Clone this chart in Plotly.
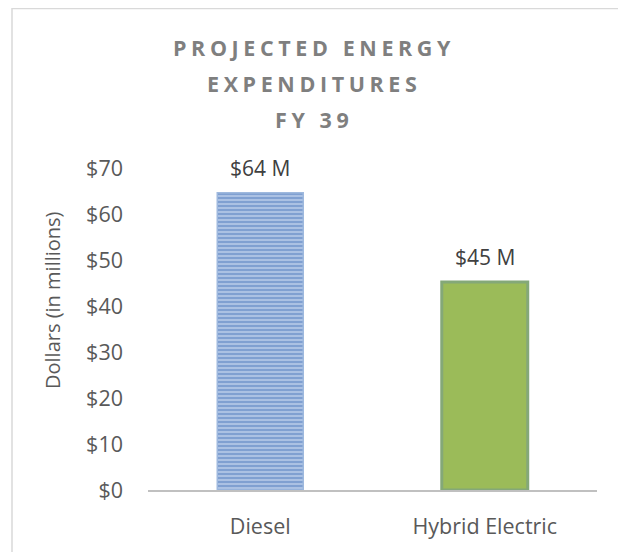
import plotly.graph_objects as go

categories = ["Diesel", "Hybrid Electric"]
values = [64.6, 45.2]
value_labels = ["$64 M", "$45 M"]
title_lines = ["PROJECTED ENERGY", "EXPENDITURES", "FY 39"]
y_title = "Dollars (in millions)"
tick_vals = [0, 10, 20, 30, 40, 50, 60, 70]
tick_text = ["$" + str(v) for v in tick_vals]

FONT = "Open Sans"
OFF = 8  # page body margin
W, H = 618, 544
L, T = 148 - OFF, 168 - OFF
plot_w, plot_h = 449, 322
R = W - L - plot_w
B = H - T - plot_h

def px_x(x):  # page px -> paper x
    return (x - OFF - L) / plot_w

def px_y(y):  # page px -> paper y
    return (T + plot_h - (y - OFF)) / plot_h

fig = go.Figure()
fig.add_trace(go.Bar(
    x=[categories[0]], y=[values[0]], width=0.383,
    marker=dict(color="#bccfea",
                pattern=dict(shape="-", fgcolor="#4472b8", bgcolor="#bccfea",
                             size=4, solidity=0.65, fillmode="overlay"),
                line=dict(color="#9fb9de", width=1.5)),
    showlegend=False, hoverinfo="skip",
))
fig.add_trace(go.Bar(
    x=[categories[1]], y=[values[1]], width=0.383,
    marker=dict(color="#9bbb59", line=dict(color="#84a878", width=3)),
    showlegend=False, hoverinfo="skip",
))

# data labels
for c, v, lab in zip(categories, values, value_labels):
    fig.add_annotation(x=c, y=v, text=lab, showarrow=False, yanchor="bottom",
                       yshift=9, font=dict(family=FONT, size=21, color="#404040"))

# title lines (wide letter spacing)
title_y_px = [48, 84, 119]
for line, ypx in zip(title_lines, title_y_px):
    fig.add_annotation(xref="paper", yref="paper", x=px_x(314),
                       y=px_y(ypx), xanchor="center", yanchor="middle",
                       showarrow=False,
                       text=f'<b><span style="letter-spacing:4.6px">{line}</span></b>',
                       font=dict(family=FONT, size=21.5, color="#7f7f7f"))

# y axis title (placed as in the reference, above plot centre)
fig.add_annotation(xref="paper", yref="paper", x=px_x(52), y=px_y(300),
                   xanchor="center", yanchor="middle", textangle=-90,
                   showarrow=False, text=y_title,
                   font=dict(family=FONT, size=20, color="#595959"))

# outer chart border
fig.add_shape(type="rect", xref="paper", yref="paper",
              x0=px_x(12), x1=px_x(625),
              y0=px_y(575), y1=px_y(8.5),
              line=dict(color="#d9d9d9", width=1.5), layer="below")

fig.update_layout(
    width=W, height=H,
    margin=dict(l=L, r=R, t=T, b=B, pad=0, autoexpand=False),
    paper_bgcolor="white", plot_bgcolor="white",
    bargap=0.617,
    font=dict(family=FONT, size=21, color="#595959"),
    xaxis=dict(showline=True, linecolor="#c0c0c0", linewidth=2, showgrid=False,
               ticks="", tickfont=dict(family=FONT, size=21.5, color="#595959"),
               zeroline=False, fixedrange=True, ticklabelstandoff=16),
    yaxis=dict(range=[0, 70], tickmode="array", tickvals=tick_vals, ticktext=tick_text,
               showgrid=False, zeroline=False, showline=False, ticks="",
               ticklabelstandoff=24,
               tickfont=dict(family=FONT, size=21.5, color="#595959")),
)

fig.write_html("out.html")
